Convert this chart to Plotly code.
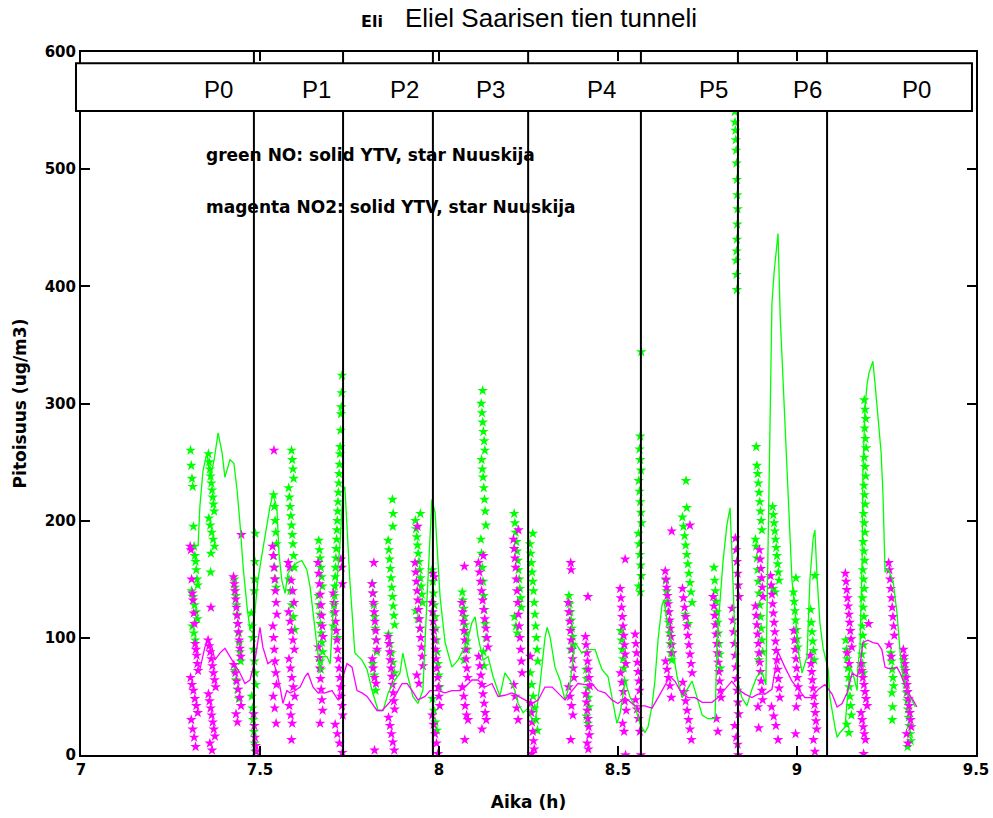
import plotly.graph_objects as go

# ---------------- data ----------------
# YTV NO (green solid line)
ytv_no_t = [7.327,7.332,7.341,7.352,7.360,7.372,7.383,7.394,7.402,7.416,7.427,7.436,7.444,7.453,7.464,7.472,7.480,7.486,7.494,7.506,
            7.520,7.528,7.536,7.547,7.553,7.561,7.570,7.578,7.589,7.603,7.617,7.631,7.640,7.648,7.659,7.668,7.676,7.687,7.696,7.704,
            7.715,7.723,7.732,7.737,7.743,7.751,7.765,7.785,7.799,7.813,7.830,7.844,7.858,7.877,7.891,7.899,7.913,7.927,7.941,7.955,
            7.966,7.975,7.980,7.989,7.994,8.003,8.017,8.036,8.053,8.067,8.078,8.092,8.101,8.109,8.123,8.137,8.151,8.170,8.184,8.198,
            8.212,8.221,8.235,8.249,8.260,8.268,8.282,8.296,8.302,8.310,8.324,8.338,8.352,8.366,8.380,8.399,8.416,8.436,8.455,8.472,
            8.486,8.497,8.506,8.520,8.534,8.547,8.561,8.575,8.584,8.595,8.603,8.612,8.623,8.628,8.640,8.654,8.665,8.679,8.693,8.707,
            8.721,8.735,8.751,8.771,8.777,8.785,8.793,8.804,8.813,8.818,8.827,8.835,8.846,8.860,8.874,8.888,8.902,8.913,8.919,8.925,
            8.930,8.936,8.941,8.947,8.953,8.961,8.969,8.975,8.980,8.986,8.994,9.003,9.014,9.028,9.036,9.045,9.050,9.056,9.064,9.073,
            9.087,9.092,9.106,9.112,9.120,9.134,9.142,9.148,9.156,9.168,9.170,9.176,9.182,9.184,9.190,9.196,9.201,9.209,9.212,9.218,
            9.226,9.235,9.240,9.243,9.246,9.254,9.268,9.279,9.288,9.296,9.310,9.321,9.330]
ytv_no = [178,212,243,258,235,252,275,258,237,252,249,226,198,160,126,107,104,126,149,172,
          198,212,222,212,172,149,138,155,160,164,166,158,143,121,92,70,84,84,78,121,
          149,178,226,229,195,149,87,81,73,55,38,38,53,64,70,87,67,50,44,55,
          130,192,218,207,181,135,96,75,81,90,96,113,118,101,81,84,67,50,70,64,
          55,44,36,40,30,27,60,100,109,101,75,64,47,61,96,87,90,90,73,67,
          44,27,36,63,49,42,27,19,24,42,63,99,128,132,110,88,67,49,56,63,
          49,34,31,31,99,135,164,196,211,174,99,63,49,42,56,67,71,60,189,293,
          385,412,430,445,375,317,265,223,183,149,125,90,70,84,149,185,192,152,113,91,
          73,49,24,15,19,24,53,75,70,55,75,92,169,240,297,317,326,335,336,317,
          286,258,224,189,156,159,149,122,88,67,52,47,41]

# YTV NO2 (magenta solid line)
ytv_no2_t = [7.330,7.338,7.346,7.355,7.366,7.374,7.388,7.402,7.416,7.430,7.444,7.458,7.472,7.486,7.500,7.508,7.522,7.536,7.547,7.556,
             7.564,7.575,7.584,7.598,7.612,7.626,7.634,7.648,7.662,7.682,7.701,7.718,7.729,7.743,7.757,7.771,7.785,7.799,7.813,7.827,
             7.841,7.858,7.877,7.891,7.897,7.911,7.925,7.941,7.961,7.975,7.997,8.017,8.036,8.059,8.073,8.092,8.109,8.128,8.148,8.165,
             8.184,8.204,8.221,8.240,8.260,8.277,8.296,8.316,8.332,8.352,8.372,8.388,8.408,8.427,8.444,8.464,8.483,8.500,8.520,8.547,
             8.575,8.595,8.612,8.631,8.645,8.659,8.679,8.696,8.715,8.735,8.763,8.779,8.799,8.818,8.835,8.855,8.874,8.891,8.911,8.930,
             8.947,8.966,8.986,9.003,9.022,9.042,9.059,9.078,9.098,9.112,9.126,9.140,9.154,9.168,9.176,9.184,9.198,9.212,9.226,9.237,
             9.246,9.254,9.268,9.279,9.288,9.296,9.310,9.324,9.335]
ytv_no2 = [70,80,92,98,92,81,87,91,84,78,70,61,64,81,109,92,78,81,70,58,
           44,55,53,55,58,67,70,58,53,53,55,47,64,78,75,55,53,50,44,38,
           38,44,50,58,61,61,55,47,50,55,55,53,55,55,58,64,64,58,61,50,
           51,53,50,47,44,47,58,58,53,47,55,61,60,61,55,53,47,44,49,42,
           42,40,49,60,67,63,52,49,49,45,45,49,56,63,56,52,49,52,52,56,
           88,75,63,56,49,49,56,60,52,41,44,53,70,67,75,96,98,96,95,90,
           75,74,74,75,70,64,53,47,41]

# Nuuskija NO (green stars)
nuuskija_no_t = [
    7.306,7.308,7.310,7.312,7.314,7.316,7.318,7.320,7.322,7.324,7.326,7.309,7.313,7.317,7.321,7.325,7.311,7.315,7.319,
    7.356,7.358,7.360,7.362,7.364,7.366,7.368,7.370,7.372,7.357,7.361,7.365,7.369,7.373,7.363,7.362,
    7.428,7.430,7.432,7.434,7.436,7.438,7.440,7.442,7.444,7.446,7.429,7.433,7.437,7.441,
    7.487,7.486,7.485,7.484,7.476,7.478,7.480,7.482,7.484,7.486,7.488,7.477,7.479,7.481,7.483,7.485,7.487,
    7.538,7.540,7.542,7.544,7.546,7.539,7.541,7.543,7.545,
    7.588,7.590,7.592,7.594,7.580,7.582,7.584,7.586,7.588,7.590,7.592,7.594,7.596,7.581,7.585,7.589,7.593,7.597,
    7.664,7.666,7.668,7.670,7.672,7.674,7.663,7.665,7.667,7.669,7.671,7.673,7.675,7.668,7.670,
    7.729,7.728,7.727,7.726,7.725,7.724,7.723,7.722,7.721,7.720,7.719,7.718,7.717,7.716,7.715,7.714,7.713,7.712,7.711,7.710,7.709,7.708,7.707,7.706,7.705,7.716,
    7.814,7.816,7.818,7.820,7.822,7.824,7.826,7.815,7.819,7.823,
    7.870,7.872,7.871,7.858,7.860,7.862,7.864,7.866,7.868,7.870,7.872,7.874,7.876,7.859,7.863,7.867,7.871,7.875,
    7.948,7.934,7.936,7.938,7.940,7.942,7.944,7.946,7.948,7.950,7.952,7.954,7.935,7.941,7.947,
    7.981,7.983,7.985,7.987,7.989,7.991,7.993,7.995,7.997,7.999,8.001,7.982,7.986,7.990,7.994,
    8.065,8.067,8.069,8.071,8.073,8.075,8.077,8.079,8.070,
    8.122,8.118,8.120,8.122,8.124,8.126,8.128,8.119,8.121,8.123,8.125,8.127,8.129,8.131,8.117,8.119,8.121,8.123,8.125,8.127,8.129,8.131,8.124,8.126,
    8.210,8.212,8.214,8.216,8.218,8.220,8.222,8.224,8.226,8.228,8.230,8.211,8.215,8.219,
    8.262,8.254,8.256,8.258,8.260,8.262,8.264,8.266,8.268,8.270,8.272,8.274,8.276,8.255,8.259,8.263,8.267,8.271,8.275,
    8.363,8.365,8.367,8.369,8.371,8.373,8.375,8.368,
    8.411,8.413,8.415,8.417,8.419,8.412,8.416,
    8.508,8.510,8.512,8.514,8.516,8.518,
    8.565,8.562,8.560,8.562,8.564,8.558,8.560,8.562,8.564,8.566,8.557,8.559,8.561,8.563,8.565,8.558,8.562,
    8.634,8.636,8.638,8.640,8.642,8.644,8.646,8.648,8.650,
    8.690,8.692,8.680,8.683,8.686,8.689,8.692,8.695,8.698,8.701,8.704,8.707,8.688,8.696,
    8.768,8.770,8.772,8.774,8.776,8.778,8.780,8.782,8.784,8.786,
    8.826,8.827,8.828,8.829,8.830,8.831,8.832,8.833,8.834,8.833,8.832,8.831,8.830,8.831,8.832,
    8.886,8.888,8.890,8.892,8.894,8.896,8.898,8.900,8.902,8.884,8.886,8.888,8.890,8.892,8.894,8.896,8.898,8.900,8.902,8.904,8.893,
    8.932,8.934,8.936,8.938,8.940,8.942,8.944,8.946,8.948,8.950,8.933,8.939,
    8.997,8.990,8.992,8.994,8.996,8.998,9.000,9.002,
    9.050,9.038,9.040,9.042,9.044,9.046,9.048,
    9.136,9.138,9.140,9.142,9.144,9.146,9.148,9.150,9.152,9.139,9.145,
    9.188,9.190,9.192,9.189,9.191,9.193,9.188,9.190,9.192,9.187,9.189,9.191,9.186,9.188,9.190,9.185,9.187,9.189,9.184,9.186,9.188,9.183,9.185,9.187,9.182,9.184,9.186,9.181,9.183,9.185,
    9.262,9.264,9.266,9.268,9.270,9.265,9.267,9.266,
    9.298,9.300,9.302,9.304,9.306,9.308,9.310,9.312,9.314,9.316,9.318,9.309,
]
nuuskija_no = [
    260,247,236,229,195,178,170,165,158,150,145,140,135,128,122,116,110,104,98,
    257,250,244,238,232,226,220,214,208,202,196,190,184,178,172,156,
    150,143,136,128,120,112,104,96,88,80,72,64,56,48,
    189,165,150,140,121,110,100,90,80,70,60,50,40,30,20,10,3,
    222,212,200,190,180,170,160,150,143,
    260,252,244,236,228,220,212,204,196,188,180,170,160,150,140,128,118,107,
    183,175,168,160,152,144,136,128,120,112,104,96,88,80,73,
    324,309,297,291,277,263,257,248,240,232,224,216,208,200,192,184,176,168,160,152,144,136,128,121,110,100,
    146,138,128,118,108,98,88,78,68,55,
    218,206,195,183,175,167,159,151,143,135,127,119,111,103,95,87,79,70,
    206,200,193,186,179,172,165,158,151,144,137,130,123,116,108,
    158,148,138,128,118,108,98,88,78,68,58,48,38,28,21,
    139,132,125,118,111,104,97,90,81,
    311,300,292,284,276,268,260,252,244,237,228,218,208,196,184,172,160,148,136,124,112,100,88,76,
    206,198,190,182,174,166,158,150,142,134,126,118,110,104,
    189,180,172,164,156,148,140,130,120,110,100,90,80,70,60,50,40,30,21,
    136,129,122,115,108,101,94,90,
    73,65,57,49,41,33,27,
    106,98,90,82,74,63,
    344,272,261,252,243,234,225,216,207,198,189,180,171,162,153,144,139,
    149,140,131,122,113,104,95,87,81,
    234,211,203,195,187,179,171,163,155,147,139,130,120,112,
    160,149,140,131,122,113,104,95,86,74,
    549,540,533,525,516,505,491,478,466,453,440,430,422,410,397,
    263,247,240,232,224,216,208,200,192,184,178,168,158,148,138,128,118,108,98,88,81,
    212,205,198,191,184,177,170,163,156,149,142,139,
    151,139,131,123,115,107,99,92,
    153,124,113,105,97,89,81,
    98,90,82,74,66,58,50,42,34,26,19,
    303,295,287,279,270,262,254,246,238,230,222,214,206,198,190,182,174,166,158,150,142,134,126,118,110,102,94,86,78,70,
    87,80,73,66,59,53,41,30,
    81,74,67,60,53,46,39,32,25,18,12,7,
]

# Nuuskija NO2 (magenta stars)
nuuskija_no2_t = [
    7.305,7.307,7.309,7.311,7.313,7.315,7.317,7.319,7.321,7.323,7.325,7.327,7.306,7.310,7.314,7.318,7.322,7.326,7.308,7.312,7.316,7.320,
    7.363,7.355,7.358,7.361,7.364,7.367,7.370,7.373,7.376,7.356,7.359,7.362,7.365,7.368,7.371,7.374,7.360,7.366,
    7.448,7.426,7.428,7.430,7.432,7.434,7.436,7.438,7.440,7.442,7.444,7.446,7.427,7.431,7.435,7.439,7.443,7.447,7.433,7.437,
    7.482,7.484,7.486,7.488,7.490,
    7.539,7.535,7.537,7.539,7.541,7.543,7.545,7.547,7.536,7.538,7.540,7.542,7.544,7.546,7.537,7.541,7.545,
    7.579,7.583,7.587,7.591,7.595,7.580,7.584,7.588,7.592,7.596,7.581,7.585,7.589,7.593,7.597,7.582,7.586,7.590,7.588,
    7.662,7.664,7.666,7.668,7.670,7.672,7.674,7.676,7.663,7.665,7.667,7.669,7.671,7.673,7.675,7.668,
    7.726,7.728,7.730,7.705,7.707,7.709,7.711,7.713,7.715,7.717,7.719,7.721,7.723,7.725,7.727,7.729,7.731,7.710,7.716,7.722,7.730,
    7.818,7.813,7.815,7.817,7.819,7.821,7.823,7.825,7.827,7.814,7.816,7.820,7.824,7.820,
    7.858,7.860,7.862,7.864,7.866,7.868,7.870,7.872,7.874,7.876,7.859,7.863,7.867,7.871,7.875,
    7.940,7.933,7.935,7.937,7.939,7.941,7.943,7.945,7.947,7.949,7.951,7.953,7.955,7.938,7.944,
    7.983,7.987,7.980,7.982,7.984,7.986,7.988,7.990,7.992,7.994,7.996,7.998,8.000,8.002,7.981,7.985,7.989,7.993,7.997,
    8.071,8.064,8.066,8.068,8.070,8.072,8.074,8.076,8.078,8.080,8.065,8.069,8.073,8.077,8.081,8.072,
    8.124,8.110,8.113,8.116,8.119,8.122,8.125,8.128,8.131,8.134,8.137,8.111,8.114,8.117,8.120,8.123,8.126,8.129,8.132,8.120,
    8.222,8.208,8.210,8.212,8.214,8.216,8.218,8.220,8.222,8.224,8.226,8.228,8.230,8.232,8.209,8.213,8.217,8.221,
    8.255,8.256,8.258,8.260,8.262,8.264,8.266,8.259,
    8.368,8.369,8.361,8.363,8.365,8.367,8.369,8.371,8.373,8.375,8.377,8.362,8.366,8.370,8.374,8.368,
    8.416,8.409,8.411,8.413,8.415,8.417,8.419,8.421,8.410,8.412,8.414,8.416,8.418,8.420,8.414,8.417,
    8.520,8.506,8.508,8.510,8.512,8.514,8.516,8.518,8.520,8.522,8.507,8.511,8.515,8.519,8.523,8.513,8.517,8.521,
    8.548,8.550,8.552,8.554,8.556,8.558,8.560,8.549,8.553,8.557,8.561,8.564,
    8.650,8.632,8.634,8.636,8.638,8.640,8.642,8.644,8.646,8.648,8.650,8.652,8.633,8.637,8.641,8.645,8.649,
    8.701,8.680,8.683,8.686,8.689,8.692,8.695,8.698,8.701,8.704,8.707,8.681,8.685,8.689,8.693,8.697,8.701,8.705,
    8.766,8.768,8.770,8.772,8.774,8.776,8.778,8.780,8.782,8.784,8.786,8.788,8.775,8.779,
    8.828,8.830,8.832,8.834,8.836,8.838,8.819,8.821,8.823,8.825,8.827,8.829,8.831,8.833,8.835,8.837,8.826,8.830,8.834,8.836,
    8.895,8.897,8.899,8.901,8.903,8.905,8.884,8.886,8.888,8.890,8.892,8.894,8.896,8.898,8.900,8.902,8.904,8.891,8.893,
    8.926,8.928,8.930,8.932,8.934,8.936,8.938,8.940,8.942,8.944,8.946,8.948,8.950,8.952,8.929,8.935,8.941,8.947,
    8.991,8.993,8.995,8.997,8.999,9.001,9.003,9.005,8.998,8.996,
    9.037,9.039,9.041,9.043,9.045,9.047,9.049,9.051,9.053,9.055,9.046,9.050,
    9.135,9.137,9.139,9.141,9.143,9.145,9.147,9.149,9.151,9.153,9.140,9.146,
    9.200,9.178,9.181,9.184,9.187,9.190,9.193,9.196,9.179,9.182,9.185,9.188,9.191,9.186,
    9.256,9.258,9.260,9.262,9.264,9.266,9.268,9.270,9.272,9.257,9.263,
    9.297,9.299,9.301,9.303,9.305,9.307,9.309,9.311,9.313,9.315,9.317,9.319,9.306,9.310,
]
nuuskija_no2 = [
    178,175,150,138,132,121,112,95,90,85,78,72,66,60,55,48,42,36,30,22,15,7,
    126,98,93,88,82,76,70,64,58,52,46,40,34,28,22,16,10,4,
    188,152,146,140,133,126,119,112,105,98,91,84,77,70,63,56,49,42,35,28,
    35,25,15,8,3,
    260,178,170,160,150,140,130,120,110,100,90,80,70,60,50,40,27,
    164,160,149,140,130,122,114,106,98,90,82,74,66,58,50,42,34,27,13,
    164,155,146,137,128,119,110,101,92,83,74,65,56,47,38,27,
    167,160,146,138,130,122,114,106,98,90,82,74,66,58,50,42,34,26,18,10,2,
    164,146,138,130,122,114,106,98,90,82,74,66,61,4,
    101,95,88,81,74,67,60,53,46,39,32,25,18,11,4,
    195,164,156,148,140,132,124,116,108,100,92,84,76,68,61,
    155,152,130,122,114,106,98,90,82,74,66,58,50,42,34,26,18,10,1,
    161,130,122,114,106,98,90,82,74,66,58,50,42,34,30,13,
    170,164,156,148,140,132,124,116,108,100,92,84,76,68,60,52,44,36,30,22,
    192,184,176,168,160,150,140,130,120,110,100,90,80,70,60,50,40,30,
    84,44,36,28,20,12,5,1,
    164,158,130,122,114,106,98,90,82,74,66,58,50,42,34,13,
    135,101,94,87,80,73,66,59,52,45,38,31,24,17,10,5,
    167,142,134,126,118,110,102,94,86,78,70,62,54,46,38,27,20,0,
    103,95,87,79,71,63,55,47,39,31,20,0,
    191,157,150,143,136,129,122,115,108,101,94,87,80,73,66,59,49,
    196,142,134,126,118,110,102,94,86,78,70,62,54,46,38,30,22,13,
    135,127,119,111,103,95,87,79,71,63,55,49,31,20,
    185,175,165,155,145,135,125,115,105,95,85,75,65,55,45,35,25,15,9,0,
    175,167,159,151,143,135,127,119,111,103,95,87,79,71,63,55,47,41,23,
    153,145,137,129,121,113,105,97,89,81,73,65,57,49,41,33,25,13,
    106,98,90,82,74,66,58,50,41,18,
    85,78,71,64,57,50,43,36,29,22,13,3,
    155,148,141,134,127,120,113,106,99,92,87,78,
    112,78,72,66,60,54,48,42,36,30,24,18,13,1,
    164,158,150,142,134,126,118,110,102,94,84,
    90,84,78,72,66,60,54,48,42,36,30,24,18,10,
]

# period boundaries and labels
period_bounds = [7.483, 7.732, 7.983, 8.249, 8.564, 8.835, 9.084]
period_labels = ["P0", "P1", "P2", "P3", "P4", "P5", "P6", "P0"]
period_label_x = [7.383, 7.659, 7.905, 8.145, 8.453, 8.768, 9.028, 9.335]

x_ticks = [7, 7.5, 8, 8.5, 9, 9.5]
x_tick_text = ["7", "7.5", "8", "8.5", "9", "9.5"]
y_ticks = [0, 100, 200, 300, 400, 500, 600]

GREEN = "#00ff00"
MAGENTA = "#ff00ff"
BOLD = "DejaVu Sans"

def _pair(a, b):
    n = min(len(a), len(b))
    return a[:n], b[:n]

fig = go.Figure()

tx, ty = _pair(nuuskija_no_t, nuuskija_no)
fig.add_trace(go.Scatter(x=tx, y=ty, mode="markers", name="NO Nuuskija",
                         marker=dict(symbol="star", size=8, color=GREEN, line=dict(width=0))))
tx, ty = _pair(nuuskija_no2_t, nuuskija_no2)
fig.add_trace(go.Scatter(x=tx, y=ty, mode="markers", name="NO2 Nuuskija",
                         marker=dict(symbol="star", size=8, color=MAGENTA, line=dict(width=0))))
tx, ty = _pair(ytv_no_t, ytv_no)
fig.add_trace(go.Scatter(x=tx, y=ty, mode="lines", name="NO YTV",
                         line=dict(color=GREEN, width=1.3)))
tx, ty = _pair(ytv_no2_t, ytv_no2)
fig.add_trace(go.Scatter(x=tx, y=ty, mode="lines", name="NO2 YTV",
                         line=dict(color=MAGENTA, width=1.3)))

bx, by = [], []
for b in period_bounds:
    bx += [b, b, None]
    by += [0, 600, None]
fig.add_trace(go.Scatter(x=bx, y=by, mode="lines", name="periods",
                         line=dict(color="black", width=2)))

# label box on top
fig.add_shape(type="rect", xref="paper", yref="paper",
              x0=-0.0056, x1=0.9955, y0=0.916, y1=0.984,
              fillcolor="white", line=dict(color="black", width=2), layer="above")

annotations = []
for lab, xl in zip(period_labels, period_label_x):
    annotations.append(dict(x=xl, y=568, xref="x", yref="y", text=lab, showarrow=False,
                            font=dict(family="Liberation Sans", size=24, color="black"),
                            xanchor="center", yanchor="middle"))
annotations.append(dict(x=7.344, y=512, xref="x", yref="y", text="green NO: solid YTV, star Nuuskija",
                        showarrow=False, xanchor="left", yanchor="middle",
                        font=dict(family=BOLD, size=17, color="black", weight="bold")))
annotations.append(dict(x=7.344, y=468, xref="x", yref="y", text="magenta NO2: solid YTV, star Nuuskija",
                        showarrow=False, xanchor="left", yanchor="middle",
                        font=dict(family=BOLD, size=17, color="black", weight="bold")))
annotations.append(dict(x=0.325, y=1.043, xref="paper", yref="paper", text="Eli", showarrow=False,
                        xanchor="center", yanchor="middle",
                        font=dict(family=BOLD, size=16, color="black", weight="bold")))
annotations.append(dict(x=0.360, y=1.048, xref="paper", yref="paper", text="Eliel Saarisen tien tunneli",
                        showarrow=False, xanchor="left", yanchor="middle",
                        font=dict(family="Liberation Sans", size=26, color="black")))

fig.update_layout(
    width=993, height=818,
    margin=dict(l=81, r=17, t=52, b=63),
    paper_bgcolor="white", plot_bgcolor="white",
    showlegend=False,
    annotations=annotations,
    xaxis=dict(range=[7, 9.5], tickvals=x_ticks, ticktext=x_tick_text,
               showline=True, linecolor="black", linewidth=2, mirror="ticks",
               ticks="inside", ticklen=9, tickwidth=2, tickcolor="black",
               showgrid=False, zeroline=False, ticklabeloverflow="allow", automargin=False,
               tickfont=dict(family=BOLD, size=15, color="black", weight="bold"),
               title=dict(text="Aika (h)", standoff=18,
                          font=dict(family=BOLD, size=17, color="black", weight="bold"))),
    yaxis=dict(range=[0, 600], tickvals=y_ticks, automargin=False,
               showline=True, linecolor="black", linewidth=2, mirror="ticks",
               ticks="inside", ticklen=9, tickwidth=2, tickcolor="black",
               showgrid=False, zeroline=False,
               tickfont=dict(family=BOLD, size=15, color="black", weight="bold"),
               title=dict(text="Pitoisuus (ug/m3)", standoff=14,
                          font=dict(family=BOLD, size=17, color="black", weight="bold"))),
)

fig.write_html("out.html")
